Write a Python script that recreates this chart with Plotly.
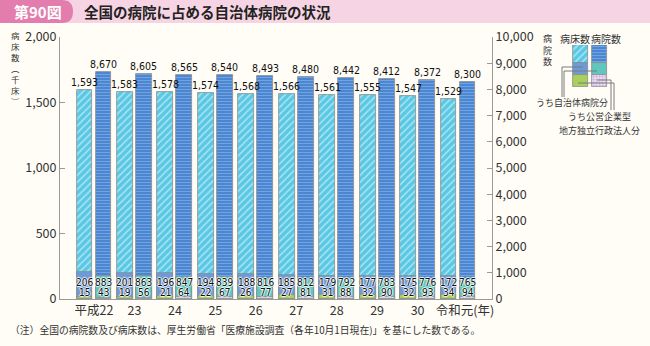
import plotly.graph_objects as go

# ---------------- data ----------------
years = ["平成22", "23", "24", "25", "26", "27", "28", "29", "30", "令和元(年)"]
beds_total = [1593, 1583, 1578, 1574, 1568, 1566, 1561, 1555, 1547, 1529]      # 千床
beds_municipal = [206, 201, 196, 194, 188, 185, 179, 177, 175, 172]
beds_lai = [15, 19, 21, 22, 26, 27, 31, 32, 32, 34]
hosp_total = [8670, 8605, 8565, 8540, 8493, 8480, 8442, 8412, 8372, 8300]
hosp_municipal = [883, 863, 847, 839, 816, 812, 792, 783, 776, 765]
hosp_lai = [43, 56, 64, 67, 77, 81, 88, 90, 93, 94]

W, H = 650, 346
def px(x): return x / W
def py(y): return 1 - y / H

BG = "#FFFDF6"
TXT = "#333333"
AX = "#9A9A9A"
OUT = "#8C8C8C"
CYAN, BLUE_BED, GREEN = "#58C8E4", "#6D9BD8", "#A9D05A"
BLUE_H, TEAL, LILAC = "#4B86D3", "#5FC7BB", "#E9DAF2"
NUM_FONT = "Liberation Sans Narrow, Arial Narrow, DejaVu Sans Condensed, sans-serif"
JP_FONT = "Noto Sans CJK JP"

xs = list(range(len(years)))
tickpos = [float(i) for i in xs]
tickpos[-1] += 0.17   # the last label carries "(年)" and sits slightly right
BW = 0.39
OFF_B, OFF_H = -0.43, 0.04
CB, CH = OFF_B + BW / 2, OFF_H + BW / 2

fig = go.Figure()

def bar(y, color, yaxis, off, pattern=None, xaxis="x", x=None, base=None, width=BW):
    m = dict(color=color, line=dict(color=OUT, width=0.8))
    if pattern:
        m["pattern"] = pattern
    fig.add_trace(go.Bar(x=x if x is not None else xs, y=y, base=base, width=width, offset=off,
                         marker=m, xaxis=xaxis, yaxis=yaxis, showlegend=False, hoverinfo="skip"))

pat_bed = dict(shape="/", fgcolor="#FFFFFF", size=5, solidity=0.3, fillmode="overlay")
pat_hosp = dict(shape="-", fgcolor="#9EC2EE", size=3, solidity=0.35, fillmode="overlay")
pat_lai = dict(shape="+", fgcolor="#A886CC", size=3, solidity=0.3, fillmode="overlay")

# beds (left axis), overlay: total, municipal, local admin. inc.
bar(beds_total, CYAN, "y", OFF_B, pat_bed)
bar(beds_municipal, BLUE_BED, "y", OFF_B)
bar(beds_lai, GREEN, "y", OFF_B)
# hospitals (right axis)
bar(hosp_total, BLUE_H, "y2", OFF_H, pat_hosp)
bar(hosp_municipal, TEAL, "y2", OFF_H)
bar(hosp_lai, LILAC, "y2", OFF_H, pat_lai)

# legend key bars (schematic)
LB = 0.79
bar([1.5], CYAN, "y3", -LB / 2, pat_bed, xaxis="x2", x=[0], base=[2], width=LB)
bar([1], BLUE_BED, "y3", -LB / 2, xaxis="x2", x=[0], base=[1], width=LB)
bar([1], GREEN, "y3", -LB / 2, xaxis="x2", x=[0], base=[0], width=LB)
bar([1.5], BLUE_H, "y3", -LB / 2, pat_hosp, xaxis="x2", x=[1], base=[2], width=LB)
bar([1], TEAL, "y3", -LB / 2, xaxis="x2", x=[1], base=[1], width=LB)
bar([1], LILAC, "y3", -LB / 2, pat_lai, xaxis="x2", x=[1], base=[0], width=LB)

ann = []
halo = "1px 0 1px #fff, -1px 0 1px #fff, 0 1px 1px #fff, 0 -1px 1px #fff"
NS = 10
for i in xs:
    ann.append(dict(x=i + CB, y=beds_total[i], xref="x", yref="y", text=f"{beds_total[i]:,}",
                    showarrow=False, yanchor="bottom", font=dict(family=NUM_FONT, size=10.5, color="#111")))
    ann.append(dict(x=i + CH, y=hosp_total[i], xref="x", yref="y2", text=f"{hosp_total[i]:,}",
                    showarrow=False, yanchor="bottom", font=dict(family=NUM_FONT, size=10.5, color="#111")))
    for xv, t1, t2 in ((i + CB, beds_municipal[i], beds_lai[i]), (i + CH, hosp_municipal[i], hosp_lai[i])):
        ann.append(dict(x=xv, y=128, xref="x", yref="y", text=str(t1), showarrow=False, yanchor="middle",
                        font=dict(family=NUM_FONT, size=NS, color="#111", shadow=halo)))
        ann.append(dict(x=xv, y=46, xref="x", yref="y", text=str(t2), showarrow=False, yanchor="middle",
                        font=dict(family=NUM_FONT, size=NS, color="#111", shadow=halo)))

def ptext(x, y, t, size=10, color=TXT, xanchor="center", bold=False):
    ann.append(dict(x=px(x), y=py(y), xref="paper", yref="paper", text=t, showarrow=False,
                    xanchor=xanchor, yanchor="middle",
                    font=dict(family=JP_FONT, size=size, color=color, weight="bold" if bold else "normal")))

# title bar
ptext(12, 12, "第90図", size=15, color="#FFFFFF", xanchor="left", bold=True)
ptext(82, 12, "全国の病院に占める自治体病院の状況", size=14.5, color="#222222", xanchor="left", bold=True)

# axis titles (vertical, one glyph per line)
ptext(15, 68, "<br>".join(["病", "床", "数", "︵", "千", "床", "︶"]), size=8.5)
ptext(547, 50, "<br>".join(["病", "院", "数"]), size=9)

# legend texts
ptext(575, 38, "病床数", size=10)
ptext(606, 38, "病院数", size=10)
ptext(572, 103, "うち自治体病院分", size=9)
ptext(599, 116.5, "うち公営企業型", size=9)
ptext(599, 130, "地方独立行政法人分", size=9)

# note
ptext(8, 330, "（注）全国の病院数及び病床数は、厚生労働省「医療施設調査（各年10月1日現在)」を基にした数である。",
      size=9.8, xanchor="left")

shapes = [
    dict(type="rect", xref="paper", yref="paper", x0=0, x1=1, y0=py(23), y1=1,
         fillcolor="#F6D4E3", line_width=0, layer="below"),
    dict(type="path", xref="paper", yref="paper", layer="below", fillcolor="#E37DAE", line_width=0,
         path=(f"M {px(0)},{py(0)} L {px(62)},{py(0)} Q {px(73)},{py(0)} {px(73)},{py(11.5)} "
               f"Q {px(73)},{py(23)} {px(62)},{py(23)} L {px(0)},{py(23)} Z")),
]
def seg(x0, y0, x1, y1):
    shapes.append(dict(type="line", xref="paper", yref="paper", x0=px(x0), y0=py(y0), x1=px(x1), y1=py(y1),
                       line=dict(color="#7A7A7A", width=1)))
seg(562, 67, 562, 97)
seg(562, 67, 583, 67)
seg(564, 71, 597, 71)
seg(564, 71, 564, 97)
seg(597, 80, 611, 80)
seg(611, 80, 611, 110)
seg(578, 83, 614, 83)
seg(614, 83, 614, 110)

fig.update_layout(
    width=W, height=H, margin=dict(l=0, r=0, t=0, b=0, autoexpand=False),
    paper_bgcolor=BG, plot_bgcolor=BG, barmode="overlay", bargap=0,
    font=dict(family=JP_FONT, size=12, color=TXT),
    annotations=ann, shapes=shapes,
    xaxis=dict(domain=[px(60), px(492)], range=[-0.84, 9.84], tickvals=tickpos, ticktext=years,
               showline=True, linecolor=AX, ticks="", showgrid=False, zeroline=False, automargin=False,
               tickfont=dict(size=12.5, color=TXT), fixedrange=True),
    yaxis=dict(domain=[1 - 299 / H, 1 - 37 / H], range=[0, 2000], dtick=500, tickformat=",",
               showline=True, linecolor=AX, ticks="inside", ticklen=5, tickcolor=AX, automargin=False,
               showgrid=False, zeroline=False, tickfont=dict(size=12.5, color=TXT)),
    yaxis2=dict(overlaying="y", side="right", anchor="x", range=[0, 10000], dtick=1000, tickformat=",",
                showline=True, linecolor=AX, ticks="inside", ticklen=5, tickcolor=AX, automargin=False,
                showgrid=False, zeroline=False, tickfont=dict(size=12.5, color=TXT)),
    xaxis2=dict(domain=[px(571), px(609)], range=[-0.5, 1.5], visible=False, anchor="y3", automargin=False),
    yaxis3=dict(domain=[1 - 87 / H, 1 - 45 / H], range=[0, 3.5], visible=False, anchor="x2", automargin=False),
)

fig.write_html("out.html")
